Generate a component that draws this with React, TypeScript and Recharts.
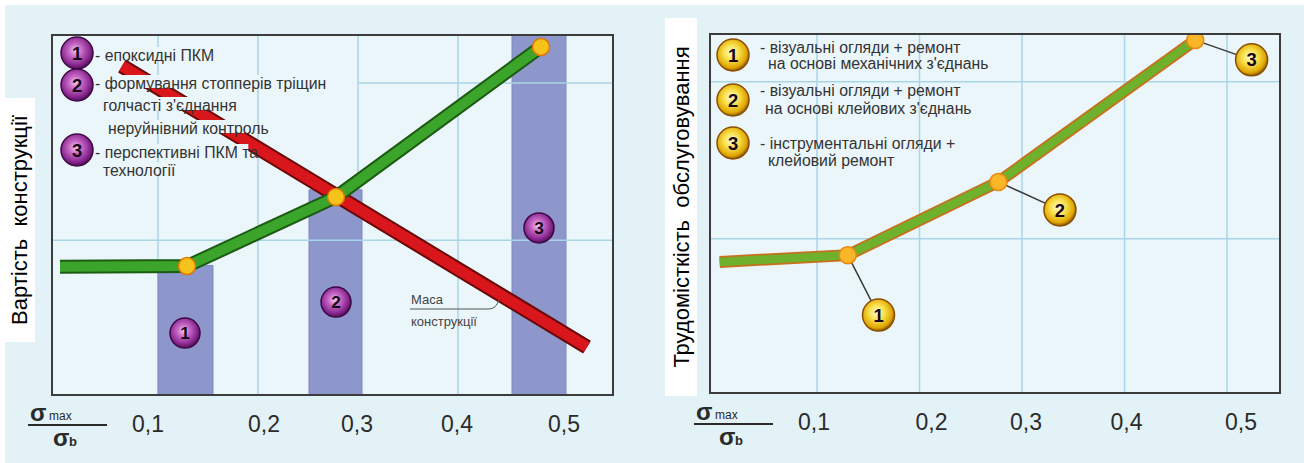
import React from "react";
import {
  ComposedChart,
  Line,
  XAxis,
  YAxis,
  CartesianGrid,
  ReferenceArea,
  ReferenceDot,
  ReferenceLine,
} from "recharts";

// ---------- shared axis ----------
const xTicks = [0.1, 0.2, 0.3, 0.4, 0.5];
const tickLabels = ["0,1", "0,2", "0,3", "0,4", "0,5"];
const hGrid = [43, 86.7];

// ---------- left chart: cost of the structure ----------
const costX = [0.002, 0.129, 0.278, 0.483];
const costY = [35.6, 35.8, 55, 96.7];
const massX = [0.064, 0.529];
const massY = [91.4, 13.3];
const bandStart = [0.1, 0.251, 0.454];
const bandEnd = [0.155, 0.304, 0.508];
const bandTop = [36, 57, 100];
const bandLabelX = [0.127, 0.278, 0.481];
const bandLabelY = [17.2, 25.8, 46.4];
const bandLabels = ["1", "2", "3"];
const leftLegendNums = ["1", "2", "3"];
const leftLegendLines = [
  "- епоксидні ПКМ",
  "- формування стопперів тріщин",
  "голчасті з'єднання",
  "неруйнівний контроль",
  "- перспективні ПКМ та",
  "технології",
];
const leftYLabel = "Вартість  конструкції";
const massLabel = ["Маса", "конструкції"];

// ---------- right chart: maintenance labour ----------
const laborX = [0.005, 0.13, 0.277, 0.469];
const laborY = [36.5, 38.4, 58.8, 98.3];
const calloutX = [0.16, 0.337, 0.524];
const calloutY = [21.7, 51, 92.8];
const calloutLabels = ["1", "2", "3"];
const rightLegendNums = ["1", "2", "3"];
const rightLegendLines = [
  "- візуальні огляди + ремонт",
  "на основі механічних з'єднань",
  "- візуальні огляди + ремонт",
  "на основі клейових з'єднань",
  "- інструментальні огляди +",
  "клейовий ремонт",
];
const rightYLabel = "Трудомісткість  обслуговування";

// ---------- styling ----------
const FONT = "'Liberation Sans', Arial, sans-serif";
const PAGE_BG = "#e2f2f7";
const PLOT_BG = "#ebf6fa";
const GRID = "#a9d5e8";
const FRAME = "#3c3c3c";
const LEFT_TICK_NUDGE = [-10, 6, -1, -1, 6];
const RIGHT_TICK_NUDGE = [-3, 12, 4, 2, 14];

const toPts = (xs: number[], ys: number[]) => xs.map((x, i) => ({ x, y: ys[i] }));

const Defs = () => (
  <defs>
    <radialGradient id="purpleBall" cx="45%" cy="42%" r="60%">
      <stop offset="0%" stopColor="#f4c6f0" />
      <stop offset="35%" stopColor="#c566c4" />
      <stop offset="75%" stopColor="#8a2890" />
      <stop offset="100%" stopColor="#4a0c52" />
    </radialGradient>
    <radialGradient id="yellowBall" cx="45%" cy="42%" r="60%">
      <stop offset="0%" stopColor="#fffbd6" />
      <stop offset="40%" stopColor="#f8e14c" />
      <stop offset="80%" stopColor="#e0a500" />
      <stop offset="100%" stopColor="#7a4a00" />
    </radialGradient>
  </defs>
);

const Ball = ({ cx, cy, r, label, kind }: any) => (
  <g>
    <circle
      cx={cx}
      cy={cy}
      r={r}
      fill={kind === "purple" ? "url(#purpleBall)" : "url(#yellowBall)"}
      stroke={kind === "purple" ? "#3e0844" : "#8a4e00"}
      strokeWidth={1.5}
    />
    <text
      x={cx}
      y={cy}
      dy="0.36em"
      textAnchor="middle"
      fontFamily={FONT}
      fontWeight="bold"
      fontSize={r * 1.15}
      fill="#160616"
    >
      {label}
    </text>
  </g>
);

const tickFmt = (v: number) => tickLabels[xTicks.indexOf(v)] ?? String(v);

const makeTick = (nudge: number[]) => (p: any) => {
  const i = xTicks.indexOf(p.payload?.value);
  return (
    <text
      x={p.x + (nudge[i] ?? 0)}
      y={p.y}
      dy="0.71em"
      textAnchor="middle"
      fontFamily={FONT}
      fontSize={23}
      fill="#2b2b2b"
    >
      {tickFmt(p.payload?.value)}
    </text>
  );
};

const Fraction = ({ x, y }: { x: number; y: number }) => (
  <g fontFamily={FONT} fill="#2a2a2a">
    <text x={x + 2} y={y - 4} fontSize={24} fontWeight="bold">σ</text>
    <text x={x + 21} y={y - 5} fontSize={12}>max</text>
    <line x1={x} x2={x + 79} y1={y} y2={y} stroke="#2a2a2a" strokeWidth={2} />
    <text x={x + 25} y={y + 21} fontSize={24} fontWeight="bold">σ</text>
    <text x={x + 41} y={y + 21} fontSize={13} fontWeight="bold">b</text>
  </g>
);

const YLabel = ({ x, y0, y1, text }: any) => (
  <g>
    <rect x={x - 16} y={y0} width={32} height={y1 - y0} fill="#ffffff" />
    <text
      transform={`translate(${x + 8},${(y0 + y1) / 2}) rotate(-90)`}
      textAnchor="middle"
      fontFamily={FONT}
      fontSize={22}
      fill="#000"
      style={{ whiteSpace: "pre" }}
    >
      {text}
    </text>
  </g>
);

function LeftChart() {
  const W = 640;
  const H = 463;
  const m = { top: 35, right: 27, bottom: 0, left: 52 };
  const xAxisH = 68;
  const domain: [number, number] = [-0.006, 0.555];
  const cost = toPts(costX, costY);
  const mass = toPts(massX, massY);
  const plotL = m.left;
  const plotT = m.top;
  const plotR = W - m.right;
  const plotB = H - xAxisH;
  const legendRows = [
    { x: 95, y: 55 },
    { x: 95, y: 83 },
    { x: 103, y: 105 },
    { x: 108, y: 128 },
    { x: 95, y: 152 },
    { x: 103, y: 170 },
  ];
  const legendBalls = [53, 85, 150];
  return (
    <div style={{ position: "absolute", left: 0, top: 0, width: W, height: H }}>
      <ComposedChart width={W} height={H} margin={m}>
        <Defs />
        <CartesianGrid horizontal={false} vertical fill={PLOT_BG} stroke={GRID} strokeWidth={1.5} />
        <XAxis
          type="number"
          dataKey="x"
          domain={domain}
          allowDataOverflow
          ticks={xTicks}
          tickFormatter={tickFmt}
          axisLine={false}
          tickLine={false}
          tickSize={0}
          tickMargin={21}
          height={xAxisH}
          tick={makeTick(LEFT_TICK_NUDGE)}
        />
        <YAxis type="number" domain={[0, 100]} hide allowDataOverflow />
        <ReferenceLine y={hGrid[0]} stroke={GRID} strokeWidth={1.5} />
        <ReferenceLine
          segment={[
            { x: 0.3, y: hGrid[1] },
            { x: domain[1], y: hGrid[1] },
          ]}
          stroke={GRID}
          strokeWidth={1.5}
        />
        {bandStart.map((s, i) => (
          <ReferenceArea
            key={"band" + i}
            x1={s}
            x2={bandEnd[i]}
            y1={0}
            y2={bandTop[i]}
            fill="#8d97cc"
            fillOpacity={1}
            stroke="#7d88c2"
            strokeWidth={1}
          />
        ))}
        <Line data={mass} dataKey="y" stroke="#6a0808" strokeWidth={15} strokeLinecap="butt" dot={false} isAnimationActive={false} />
        <Line data={mass} dataKey="y" stroke="#d8161c" strokeWidth={11} strokeLinecap="butt" dot={false} isAnimationActive={false} />
        <Line data={cost} dataKey="y" stroke="#1d5a12" strokeWidth={14} strokeLinecap="butt" strokeLinejoin="miter" dot={false} isAnimationActive={false} />
        <Line
          data={cost}
          dataKey="y"
          stroke="#3aa52a"
          strokeWidth={10}
          strokeLinecap="butt"
          strokeLinejoin="miter"
          isAnimationActive={false}
          dot={(p: any) =>
            p.index > 0 ? (
              <circle key={"cd" + p.index} cx={p.cx} cy={p.cy} r={8.5} fill="#f6c21c" stroke="#e07800" strokeWidth={1.5} />
            ) : (
              <g key={"cd" + p.index} />
            )
          }
        />
        {bandLabels.map((l, i) => (
          <ReferenceDot
            key={"bl" + i}
            x={bandLabelX[i]}
            y={bandLabelY[i]}
            r={15}
            shape={(p: any) => <Ball cx={p.cx} cy={p.cy} r={15} label={l} kind="purple" />}
          />
        ))}
      </ComposedChart>
      <svg width={W} height={H} style={{ position: "absolute", left: 0, top: 0, pointerEvents: "none" }}>
        <rect x={plotL} y={plotT} width={plotR - plotL} height={plotB - plotT} fill="none" stroke={FRAME} strokeWidth={2} />
        {leftLegendLines.map((t, i) => (
          <rect key={"mk" + i} x={legendRows[i].x} y={legendRows[i].y - 8} width={t.length * 7.3} height={13} fill={PLOT_BG} />
        ))}
        {leftLegendLines.map((t, i) => (
          <text
            key={"lt" + i}
            x={legendRows[i].x}
            y={legendRows[i].y}
            dy="0.35em"
            fontFamily={FONT}
            fontSize={15.8}
            fill="#333"
          >
            {t}
          </text>
        ))}
        {leftLegendNums.map((n, i) => (
          <Ball key={"lb" + i} cx={77} cy={legendBalls[i]} r={16} label={n} kind="purple" />
        ))}
        <g fontFamily={FONT} fontSize={13} fill="#444">
          <text x={411} y={304}>{massLabel[0]}</text>
          <text x={411} y={326}>{massLabel[1]}</text>
          <path d="M 410 309 L 489 309 Q 496 309 499 300" fill="none" stroke="#555" strokeWidth={1} />
        </g>
        <YLabel x={19} y0={98} y1={342} text={leftYLabel} />
        <Fraction x={28} y={425} />
      </svg>
    </div>
  );
}

function RightChart() {
  const W = 654;
  const H = 463;
  const m = { top: 34, right: 24, bottom: 0, left: 60 };
  const xAxisH = 70;
  const domain: [number, number] = [-0.0044, 0.5517];
  const labor = toPts(laborX, laborY);
  const plotL = m.left;
  const plotT = m.top;
  const plotR = W - m.right;
  const plotB = H - xAxisH;
  const rows = [
    { x: 110, y: 47 },
    { x: 118, y: 63 },
    { x: 110, y: 90 },
    { x: 115, y: 108 },
    { x: 110, y: 143 },
    { x: 118, y: 160 },
  ];
  const balls = [55, 100, 143];
  return (
    <div style={{ position: "absolute", left: 650, top: 0, width: W, height: H }}>
      <ComposedChart width={W} height={H} margin={m}>
        <Defs />
        <CartesianGrid horizontal={false} vertical fill={PLOT_BG} stroke={GRID} strokeWidth={1.5} />
        <XAxis
          type="number"
          dataKey="x"
          domain={domain}
          allowDataOverflow
          ticks={xTicks}
          tickFormatter={tickFmt}
          axisLine={false}
          tickLine={false}
          tickSize={0}
          tickMargin={21}
          height={xAxisH}
          tick={makeTick(RIGHT_TICK_NUDGE)}
        />
        <YAxis type="number" domain={[0, 100]} hide allowDataOverflow />
        {hGrid.map((g, i) => (
          <ReferenceLine key={"hg" + i} y={g} stroke={GRID} strokeWidth={1.5} />
        ))}
        {calloutLabels.map((_, i) => (
          <ReferenceLine
            key={"cl" + i}
            segment={[
              { x: laborX[i + 1], y: laborY[i + 1] },
              { x: calloutX[i], y: calloutY[i] },
            ]}
            stroke="#3a3a3a"
            strokeWidth={1.5}
          />
        ))}
        <Line data={labor} dataKey="y" stroke="#c8701c" strokeWidth={12} strokeLinecap="butt" strokeLinejoin="miter" dot={false} isAnimationActive={false} />
        <Line
          data={labor}
          dataKey="y"
          stroke="#6fb02c"
          strokeWidth={8.5}
          strokeLinecap="butt"
          strokeLinejoin="miter"
          isAnimationActive={false}
          dot={(p: any) =>
            p.index > 0 ? (
              <circle key={"ld" + p.index} cx={p.cx} cy={p.cy} r={8.5} fill="#f8b628" stroke="#e88a10" strokeWidth={1.5} />
            ) : (
              <g key={"ld" + p.index} />
            )
          }
        />
        {calloutLabels.map((l, i) => (
          <ReferenceDot
            key={"cb" + i}
            x={calloutX[i]}
            y={calloutY[i]}
            r={16}
            shape={(p: any) => <Ball cx={p.cx} cy={p.cy} r={16} label={l} kind="yellow" />}
          />
        ))}
      </ComposedChart>
      <svg width={W} height={H} style={{ position: "absolute", left: 0, top: 0, pointerEvents: "none" }}>
        <rect x={plotL} y={plotT} width={plotR - plotL} height={plotB - plotT} fill="none" stroke={FRAME} strokeWidth={2} />
        {rightLegendLines.map((t, i) => (
          <text key={"rt" + i} x={rows[i].x} y={rows[i].y} dy="0.35em" fontFamily={FONT} fontSize={15.8} fill="#333">
            {t}
          </text>
        ))}
        {rightLegendNums.map((n, i) => (
          <Ball key={"rb" + i} cx={83} cy={balls[i]} r={16} label={n} kind="yellow" />
        ))}
        <YLabel x={31} y0={18} y1={396} text={rightYLabel} />
        <Fraction x={44} y={424} />
      </svg>
    </div>
  );
}

export default function App() {
  return (
    <div style={{ position: "relative", width: 1304, height: 463, background: "#fff", overflow: "hidden" }}>
      <style>{`body{margin:0}`}</style>
      <div style={{ position: "absolute", left: 5, top: 5, width: 1299, height: 458, background: PAGE_BG }} />
      <LeftChart />
      <RightChart />
    </div>
  );
}
